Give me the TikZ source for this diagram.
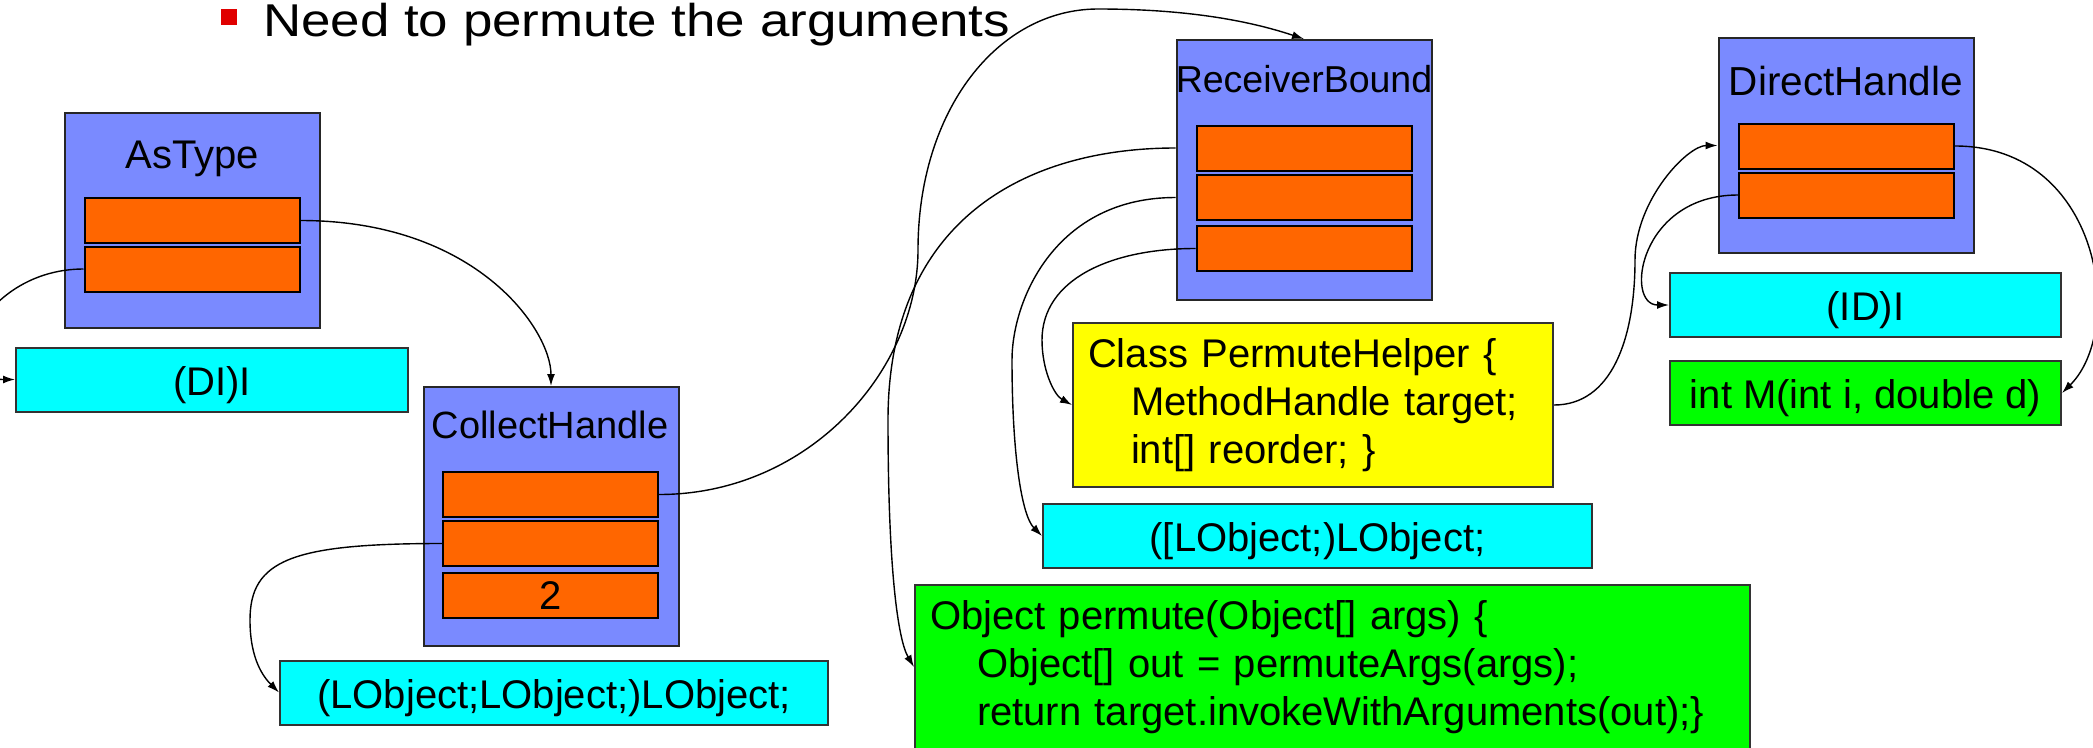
\documentclass[tikz,border=0pt]{standalone}
\usepackage{fontspec}
\setmainfont{Liberation Sans}
\newfontfamily\headfont[FakeStretch=1.15]{Liberation Sans}
\usetikzlibrary{arrows.meta}

\definecolor{handleblue}{RGB}{122,138,255}
\definecolor{slotorange}{RGB}{255,102,0}
\definecolor{sigcyan}{RGB}{0,255,255}
\definecolor{helperyellow}{RGB}{255,255,0}
\definecolor{codegreen}{RGB}{0,255,0}
\definecolor{bulletred}{RGB}{224,0,0}

\begin{document}
\begin{tikzpicture}[x=1pt,y=1pt,
  handle/.style={draw=black!85,line width=2pt,fill=handleblue,minimum width=255pt,inner sep=0pt},
  slot/.style={draw=black,line width=2pt,fill=slotorange,minimum width=215pt,minimum height=39pt,inner sep=0pt,font=\fontsize{40}{48}\selectfont,text height=36pt,text depth=9pt},
  sig/.style={draw=black!80,line width=2pt,fill=sigcyan,minimum height=64pt,inner sep=0pt,font=\fontsize{40}{48}\selectfont,text height=40pt,text depth=9pt},
  code/.style={draw=black!80,line width=2pt,inner sep=15pt,align=left,font=\fontsize{40}{48}\selectfont},
  hname/.style={anchor=base,inner sep=0pt,font=\fontsize{40}{48}\selectfont},
  link/.style={line width=1.4pt,-{Latex[length=12pt,width=8pt]}}]
\useasboundingbox (0,0) rectangle (2093,-747);

% heading
\node[fill=bulletred,minimum size=16pt,inner sep=0pt] (bullet) at (229,-17) {};
\node[anchor=base west,inner sep=0pt,font=\headfont\fontsize{46}{55}\selectfont] (head) at (263,-36) {Need to permute the arguments};

% AsType
\node[handle,minimum height=215pt] (astype) at (192.5,-220.5) {};
\node[hname] (astypeL) at (192.5,-168) {AsType};
\node[slot] (at1) at (192,-220.5) {};
\node[slot] (at2) at (192,-269) {};
\node[sig,minimum width=392pt] (di) at (212,-379.5) {(DI)I};

% CollectHandle
\node[handle,minimum height=259pt] (ch) at (551,-516.5) {};
\node[hname,font=\fontsize{38}{46}\selectfont] (chL) at (550,-438) {CollectHandle};
\node[slot] (ch1) at (550.5,-494.5) {};
\node[slot] (ch2) at (550.5,-543.5) {};
\node[slot] (ch3) at (550.5,-595.5) {2};
\node[sig,minimum width=548pt] (lol) at (554,-692.5) {(LObject;LObject;)LObject;};

% ReceiverBound
\node[handle,minimum height=260pt] (rb) at (1304,-170) {};
\node[hname,font=\fontsize{37.5}{45}\selectfont] (rbL) at (1304,-92) {ReceiverBound};
\node[slot] (rb1) at (1304,-148) {};
\node[slot] (rb2) at (1304,-197.5) {};
\node[slot] (rb3) at (1304,-248.5) {};
\node[code,fill=helperyellow,minimum width=480pt,minimum height=164pt,text width=450pt] (ph) at (1313,-405)
  {Class PermuteHelper \{\\\hspace*{43pt}MethodHandle target;\\\hspace*{43pt}int[] reorder; \}};
\node[sig,minimum width=549pt] (al) at (1317.5,-536) {([LObject;)LObject;};
\node[code,fill=codegreen,minimum width=835pt,minimum height=160pt,text width=805pt] (perm) at (1332.5,-667)
  {Object permute(Object[] args) \{\\\hspace*{47pt}Object[] out = permuteArgs(args);\\\hspace*{47pt}return target.invokeWithArguments(out);\}};

% DirectHandle
\node[handle,minimum height=215pt] (dh) at (1846,-145.5) {};
\node[hname,font=\fontsize{40.5}{48}\selectfont] (dhL) at (1846,-95) {DirectHandle};
\node[slot] (dh1) at (1846.5,-146) {};
\node[slot] (dh2) at (1846.5,-195) {};
\node[sig,minimum width=391pt] (id) at (1865.5,-305) {(ID)I};
\node[sig,fill=codegreen,minimum width=391pt] (im) at (1865.5,-393) {int M(int i, double d)};

% bends
\coordinate (rise) at (918,-250);
\coordinate (peak) at (1098,-9);
\coordinate (dropP) at (888,-420);
\coordinate (dropS) at (1012,-360);
\coordinate (dropH) at (1042,-340);
\coordinate (climb) at (1635,-260);
\coordinate (loop) at (250,-620);

% links
\draw[link] (at1.east) .. controls +(176,0) and +(0,56) .. (ch.north);
\draw[link] (at2.west) .. controls +(-100,0) and +(-80,0) .. (di.west);
\draw[link] (ch2.west) .. controls +(-150,0) and +(0,60) .. (loop) .. controls +(0,-40) and +(-15,15) .. (lol.west);
\draw[link] (ch1.east) .. controls +(150,0) and +(0,-120) .. (rise) .. controls +(0,140) and +(-100,0) .. (peak) .. controls +(82,0) and +(-60,20) .. (rb.north);
\draw[link] (rb.west |- rb1.west) .. controls +(-150,0) and +(0,200) .. (dropP) .. controls +(0,-150) and +(-16,27) .. (perm.west);
\draw[link] (rb.west |- rb2.west) .. controls +(-120,0) and +(0,60) .. (dropS) .. controls +(0,-90) and +(-21,21) .. (al.west);
\draw[link] (rb3.west) .. controls +(-86,0) and +(0,60) .. (dropH) .. controls +(0,-30) and +(-18,10) .. (ph.west);
\draw[link] (ph.east) .. controls +(57,0) and +(0,-80) .. (climb) .. controls +(0,60) and +(-30,0) .. (dh.west);
\draw[link] (dh2.west) .. controls +(-99,0) and +(-45,0) .. (id.west);
\draw[link] (dh1.east) .. controls +(146,0) and +(64,63) .. (im.east);
\end{tikzpicture}
\end{document}
